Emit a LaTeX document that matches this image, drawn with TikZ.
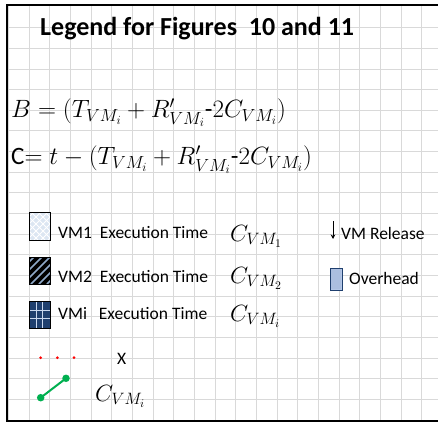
\documentclass[tikz,border=0pt]{standalone}
\usepackage{fix-cm}
\usepackage{fontspec}
\setmainfont{Carlito}
\usetikzlibrary{arrows.meta}
\definecolor{gridgray}{HTML}{D9D9D9}
\definecolor{vmone}{HTML}{DCE6F2}
\definecolor{vmtwo}{HTML}{8EA9C8}
\definecolor{vmi}{HTML}{1F3F6E}
\definecolor{ovh}{HTML}{B4C7E7}
\definecolor{greenl}{HTML}{00B050}
\tikzset{
  legtext/.style={anchor=west, inner sep=0pt, font=\fontsize{17.5}{20}\selectfont},
  mathtext/.style={anchor=west, inner sep=0pt, font=\fontsize{23.5}{27}\selectfont},
  eqtext/.style={anchor=west, inner sep=0pt, font=\fontsize{25}{29}\selectfont},
  swatch/.style={draw=black, line width=0.8pt},
  reddot/.style={circle, fill=red, inner sep=0pt, minimum size=3pt},
  greendot/.style={circle, fill=greenl, inner sep=0pt, minimum size=7.5pt},
}
\begin{document}
\begin{tikzpicture}[x=1pt,y=-1pt]
\useasboundingbox (0,0) rectangle (438,423);
\clip (0,0) rectangle (438,423);
\fill[white] (0,0) rectangle (438,423);
% grid
\foreach \k in {0,...,20} {
  \draw[gridgray, line width=0.9pt] ({8.6+20.65*\k},5) -- ({8.6+20.65*\k},421);
}
\foreach \k in {1,...,19} {
  \draw[gridgray, line width=0.9pt] (7,{7+20.65*\k}) -- (445,{7+20.65*\k});
}
% frame
\draw[black, line width=1.8pt] (7,5) rectangle (460,421);
% title
\node[anchor=west, inner sep=0pt, font=\bfseries\fontsize{26}{30}\selectfont] (title) at (40,29) {Legend for Figures\ \ 10 and 11};
% equations
\node[eqtext] (eqB) at (11,113) {$B = (T_{VM_i} + R'_{VM_i}\mbox{-}2C_{VM_i})$};
\node[eqtext] (eqC) at (11,160) {C$= t - (T_{VM_i} + R'_{VM_i}\mbox{-}2C_{VM_i})$};
% VM1 swatch
\begin{scope}
  \clip (29,212) rectangle (50,240);
  \fill[vmone] (29,212) rectangle (50,240);
  \foreach \d in {-40,-33,...,40} {
    \draw[white, line width=0.8pt] ({29+\d},212) -- ({29+\d+28},240);
    \draw[white, line width=0.8pt] ({50-\d},212) -- ({50-\d-28},240);
  }
\end{scope}
\node[swatch, minimum width=21pt, minimum height=28pt, inner sep=0pt] (sw1) at (39.5,226) {};
% VM2 swatch
\begin{scope}
  \clip (29,257) rectangle (50,284);
  \fill[black] (29,257) rectangle (50,284);
  \foreach \d in {-30,-22,...,30} {
    \draw[vmtwo, line width=1.5pt] ({29+\d},284) -- ({29+\d+27},257);
  }
\end{scope}
\node[swatch, minimum width=21pt, minimum height=27pt, inner sep=0pt] (sw2) at (39.5,270.5) {};
% VMi swatch
\begin{scope}
  \fill[vmi] (29,301) rectangle (50,328);
  \draw[ovh!70!white, line width=0.7pt] (36.5,301) -- (36.5,328);
  \draw[ovh!70!white, line width=0.7pt] (42.5,301) -- (42.5,328);
  \draw[ovh!70!white, line width=0.7pt] (29,310) -- (50,310);
  \draw[ovh!70!white, line width=0.7pt] (29,318) -- (50,318);
\end{scope}
\node[swatch, minimum width=21pt, minimum height=27pt, inner sep=0pt] (sw3) at (39.5,314.5) {};
% labels
\node[legtext] (l1) at (58,233) {VM1\ \ Execution Time};
\node[legtext] (l2) at (58,277) {VM2\ \ Execution Time};
\node[legtext] (l3) at (58,314) {VMi\ \ \ Execution Time};
\node[mathtext] (c1) at (230,236) {$C_{VM_1}$};
\node[mathtext] (c2) at (230,278) {$C_{VM_2}$};
\node[mathtext] (c3) at (230,316) {$C_{VM_i}$};
% VM release arrow
\coordinate (ra) at (333,221);
\coordinate (rb) at (333,239);
\draw[line width=0.8pt, -{Stealth[length=4.5pt,width=4.5pt]}] (ra) -- (rb);
\node[legtext] (rel) at (341,233) {VM Release};
% overhead swatch
\begin{scope}
  \fill[ovh] (330,268) rectangle (342,290);
  \foreach \i in {0,...,4} {
    \foreach \j in {0,...,9} {
      \fill[vmi!80!white] ({332+2*\i},{270+2*\j}) circle (0.45pt);
    }
  }
\end{scope}
\node[draw=vmi, line width=0.8pt, minimum width=12pt, minimum height=22pt, inner sep=0pt] (ovb) at (336,279) {};
\node[legtext] (ovl) at (349,278) {Overhead};
% red dots and X
\node[reddot] (d1) at (40.7,357.7) {};
\node[reddot] (d2) at (57.3,357.7) {};
\node[reddot] (d3) at (74,357.7) {};
\node[legtext] (xl) at (117,359) {X};
% green segment
\node[greendot] (g1) at (40.7,397.7) {};
\node[greendot] (g2) at (66,378.3) {};
\draw[greenl, line width=2pt] (g1.center) -- (g2.center);
\node[mathtext] (c4) at (95,396) {$C_{VM_i}$};
\end{tikzpicture}
\end{document}
